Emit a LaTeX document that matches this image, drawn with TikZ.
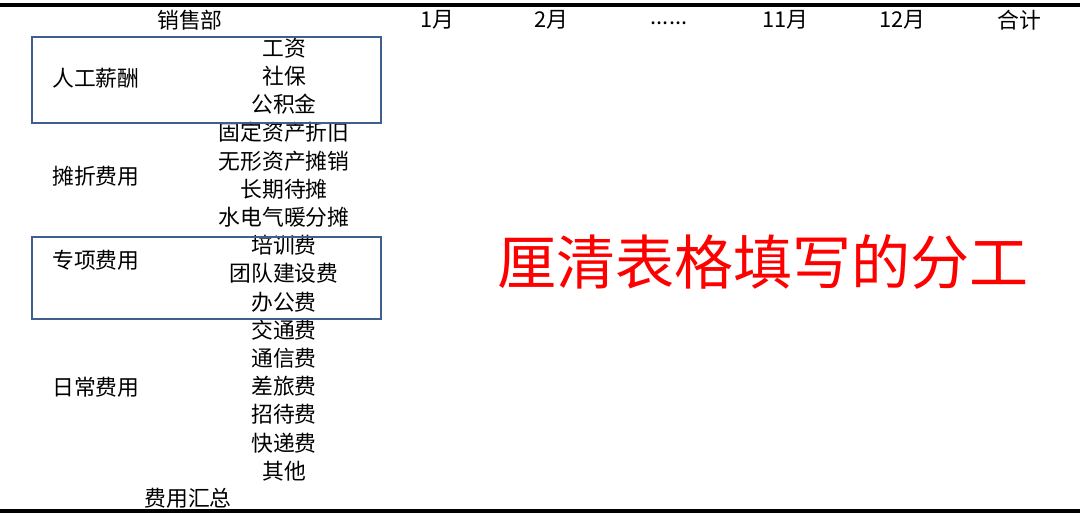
\documentclass[tikz,border=0pt]{standalone}
\usepackage{fontspec}
\setmainfont{Noto Sans CJK SC}
\usepackage{xcolor}
\usetikzlibrary{positioning}
\definecolor{boxblue}{RGB}{62,96,142}

\begin{document}
\begin{tikzpicture}[
  x=0.025cm, y=-0.025cm,
  every node/.style={font=\fontsize{15.5pt}{18pt}\selectfont, inner sep=0pt},
  head/.style={anchor=center},
  group/.style={anchor=west},
  item/.style={anchor=center},
  rule/.style={draw=black, line width=2.4pt},
  groupbox/.style={draw=boxblue, line width=1.8pt},
  note/.style={text=red, font=\fontsize{42pt}{46pt}\selectfont}
]
\useasboundingbox (0,0) rectangle (1080,526);

% header row
\node[head] (dept) at (190,20) {销售部};
\node[head] (m1) at (437,20) {1月};
\node[head] (m2) at (551,20) {2月};
\node[head] (mdots) at (669,23) {......};
\node[head] (m11) at (785,20) {11月};
\node[head] (m12) at (902,20) {12月};
\node[head] (total) at (1019,20) {合计};

% groups
\node[group] (salary) at (52,78) {人工薪酬};
\node[group] (amort) at (52,176) {摊折费用};
\node[group] (special) at (52,260) {专项费用};
\node[group] (daily) at (52,387) {日常费用};

% items
\foreach \name/\txt [count=\i from 0] in {
  wage/工资, social/社保, fund/公积金, fixed/固定资产折旧,
  intang/无形资产摊销, longterm/长期待摊, utility/水电气暖分摊,
  training/培训费, team/团队建设费, office/办公费, traffic/交通费,
  telecom/通信费, travel/差旅费, hosting/招待费, express/快递费, other/其他}
  \node[item] (\name) at (284,{48+28.2*\i}) {\txt};

\node[head] (sum) at (188,498) {费用汇总};

% remark
\node[note] (remark) at (763,262) {厘清表格填写的分工};

% rules and boxes
\coordinate (topL) at (0,5);
\coordinate (topR) at (1080,5);
\coordinate (botL) at (0,511);
\coordinate (botR) at (1080,511);
\draw[rule] (topL) -- (topR);
\draw[rule] (botL) -- (botR);
\draw[groupbox] (32,37) rectangle (381,123);
\draw[groupbox] (32,237) rectangle (381,319);

\end{tikzpicture}
\end{document}
